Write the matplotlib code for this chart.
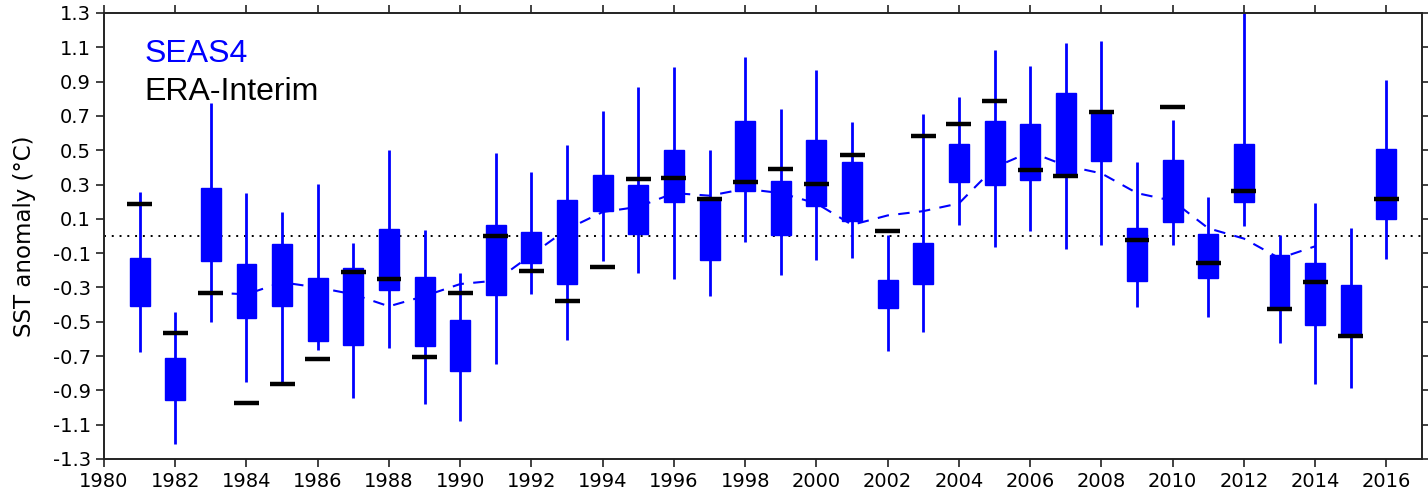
import numpy as np
import matplotlib
matplotlib.use("Agg")
import matplotlib.pyplot as plt

plt.rcParams['axes.unicode_minus'] = False
plt.rcParams['font.family'] = ['DejaVu Sans']

years = list(range(1981, 2017))

# SEAS4 ensemble spread: whisker max / upper quartile / lower quartile / whisker min
seas4_max = [0.254, -0.445, 0.778, 0.250, 0.138, 0.302, -0.041, 0.501, 0.034, -0.217,
             0.484, 0.376, 0.530, 0.731, 0.871, 0.985, 0.503, 1.044, 0.741, 0.967,
             0.667, 0.003, 0.710, 0.811, 1.083, 0.992, 1.127, 1.139, 0.434, 0.677,
             0.225, 1.300, 0.007, 0.190, 0.047, 0.911]
seas4_q75 = [-0.128, -0.710, 0.280, -0.165, -0.045, -0.242, -0.184, 0.038, -0.237, -0.490,
             0.063, 0.026, 0.210, 0.357, 0.297, 0.500, 0.208, 0.668, 0.320, 0.559,
             0.432, -0.257, -0.038, 0.536, 0.668, 0.652, 0.834, 0.724, 0.049, 0.443,
             0.011, 0.538, -0.113, -0.157, -0.287, 0.509]
seas4_q25 = [-0.407, -0.954, -0.146, -0.478, -0.407, -0.610, -0.633, -0.314, -0.644, -0.787,
             -0.343, -0.159, -0.281, 0.148, 0.013, 0.200, -0.140, 0.264, 0.003, 0.177,
             0.088, -0.420, -0.277, 0.314, 0.297, 0.328, 0.362, 0.436, -0.262, 0.080,
             -0.243, 0.198, -0.426, -0.517, -0.585, 0.101]
seas4_min = [-0.677, -1.213, -0.503, -0.851, -0.866, -0.662, -0.942, -0.654, -0.977, -1.079,
             -0.747, -0.337, -0.608, -0.144, -0.215, -0.248, -0.351, -0.036, -0.229, -0.142,
             -0.130, -0.672, -0.557, 0.063, -0.067, 0.032, -0.076, -0.051, -0.414, -0.055,
             -0.472, 0.061, -0.621, -0.865, -0.888, -0.132]

# ERA-Interim values
era = [0.188, -0.567, -0.333, -0.971, -0.863, -0.716, -0.208, -0.252, -0.706, -0.335,
       0.001, -0.206, -0.378, -0.179, 0.333, 0.339, 0.214, 0.312, 0.393, 0.302,
       0.471, 0.028, 0.585, 0.652, 0.786, 0.384, 0.347, 0.724, -0.024, 0.753,
       -0.159, 0.262, -0.426, -0.268, -0.583, 0.217]

# smoothed curve (dashed), 1983-2014
smooth_years = list(range(1983, 2015))
smooth = [-0.33, -0.34, -0.27, -0.30, -0.34, -0.41, -0.35, -0.28, -0.26, -0.11,
          0.04, 0.14, 0.17, 0.25, 0.235, 0.275, 0.25, 0.19, 0.065, 0.12,
          0.145, 0.19, 0.40, 0.49, 0.41, 0.365, 0.25, 0.205, 0.045, -0.015,
          -0.13, -0.06]

xticks = list(range(1980, 2017, 2))
yticks = [-1.3, -1.1, -0.9, -0.7, -0.5, -0.3, -0.1, 0.1, 0.3, 0.5, 0.7, 0.9, 1.1, 1.3]

blue = '#0000ff'

fig = plt.figure(figsize=(14.28, 5), dpi=100)
ax = fig.add_axes([104/1428, 41/500, 1318/1428, 446/500])

ax.plot(smooth_years, smooth, color=blue, lw=1.5, ls=(0, (5.5, 4.5)), zorder=1)
ax.axhline(0, color='black', lw=1.4, ls=(0, (1, 3)), zorder=1.5)
ax.vlines(years, seas4_min, seas4_max, color=blue, lw=2, zorder=2)
q25 = np.array(seas4_q25)
q75 = np.array(seas4_q75)
ax.bar(years, q75 - q25, bottom=q25, width=0.56, color=blue, edgecolor=blue,
       linewidth=1, zorder=3)
ax.hlines(era, np.array(years) - 0.35, np.array(years) + 0.35, color='black',
          lw=3.2, zorder=4)

ax.set_xlim(1980, 2017)
ax.set_ylim(-1.3, 1.3)
ax.set_xticks(xticks)
ax.set_xticklabels([str(x) for x in xticks])
ax.set_yticks(yticks)
ax.set_yticklabels(['%.1f' % y for y in yticks])
ax.tick_params(direction='out', top=True, right=True, length=5.5, width=1.2,
               labelsize=14, labeltop=False, labelright=False, pad=4, colors='#222222')
ax.tick_params(labelcolor='black')
for sp in ax.spines.values():
    sp.set_linewidth(1.4)
    sp.set_color('#222222')

ax.set_ylabel('SST anomaly (\u00b0C)', fontsize=16.5, labelpad=12)

ax.text(0.031, 0.890, 'SEAS4', transform=ax.transAxes, color=blue,
        fontsize=23, family='Liberation Sans', va='baseline', ha='left')
ax.text(0.031, 0.805, 'ERA-Interim', transform=ax.transAxes, color='black',
        fontsize=23, family='Liberation Sans', va='baseline', ha='left')

fig.savefig('out.png', dpi=100)
